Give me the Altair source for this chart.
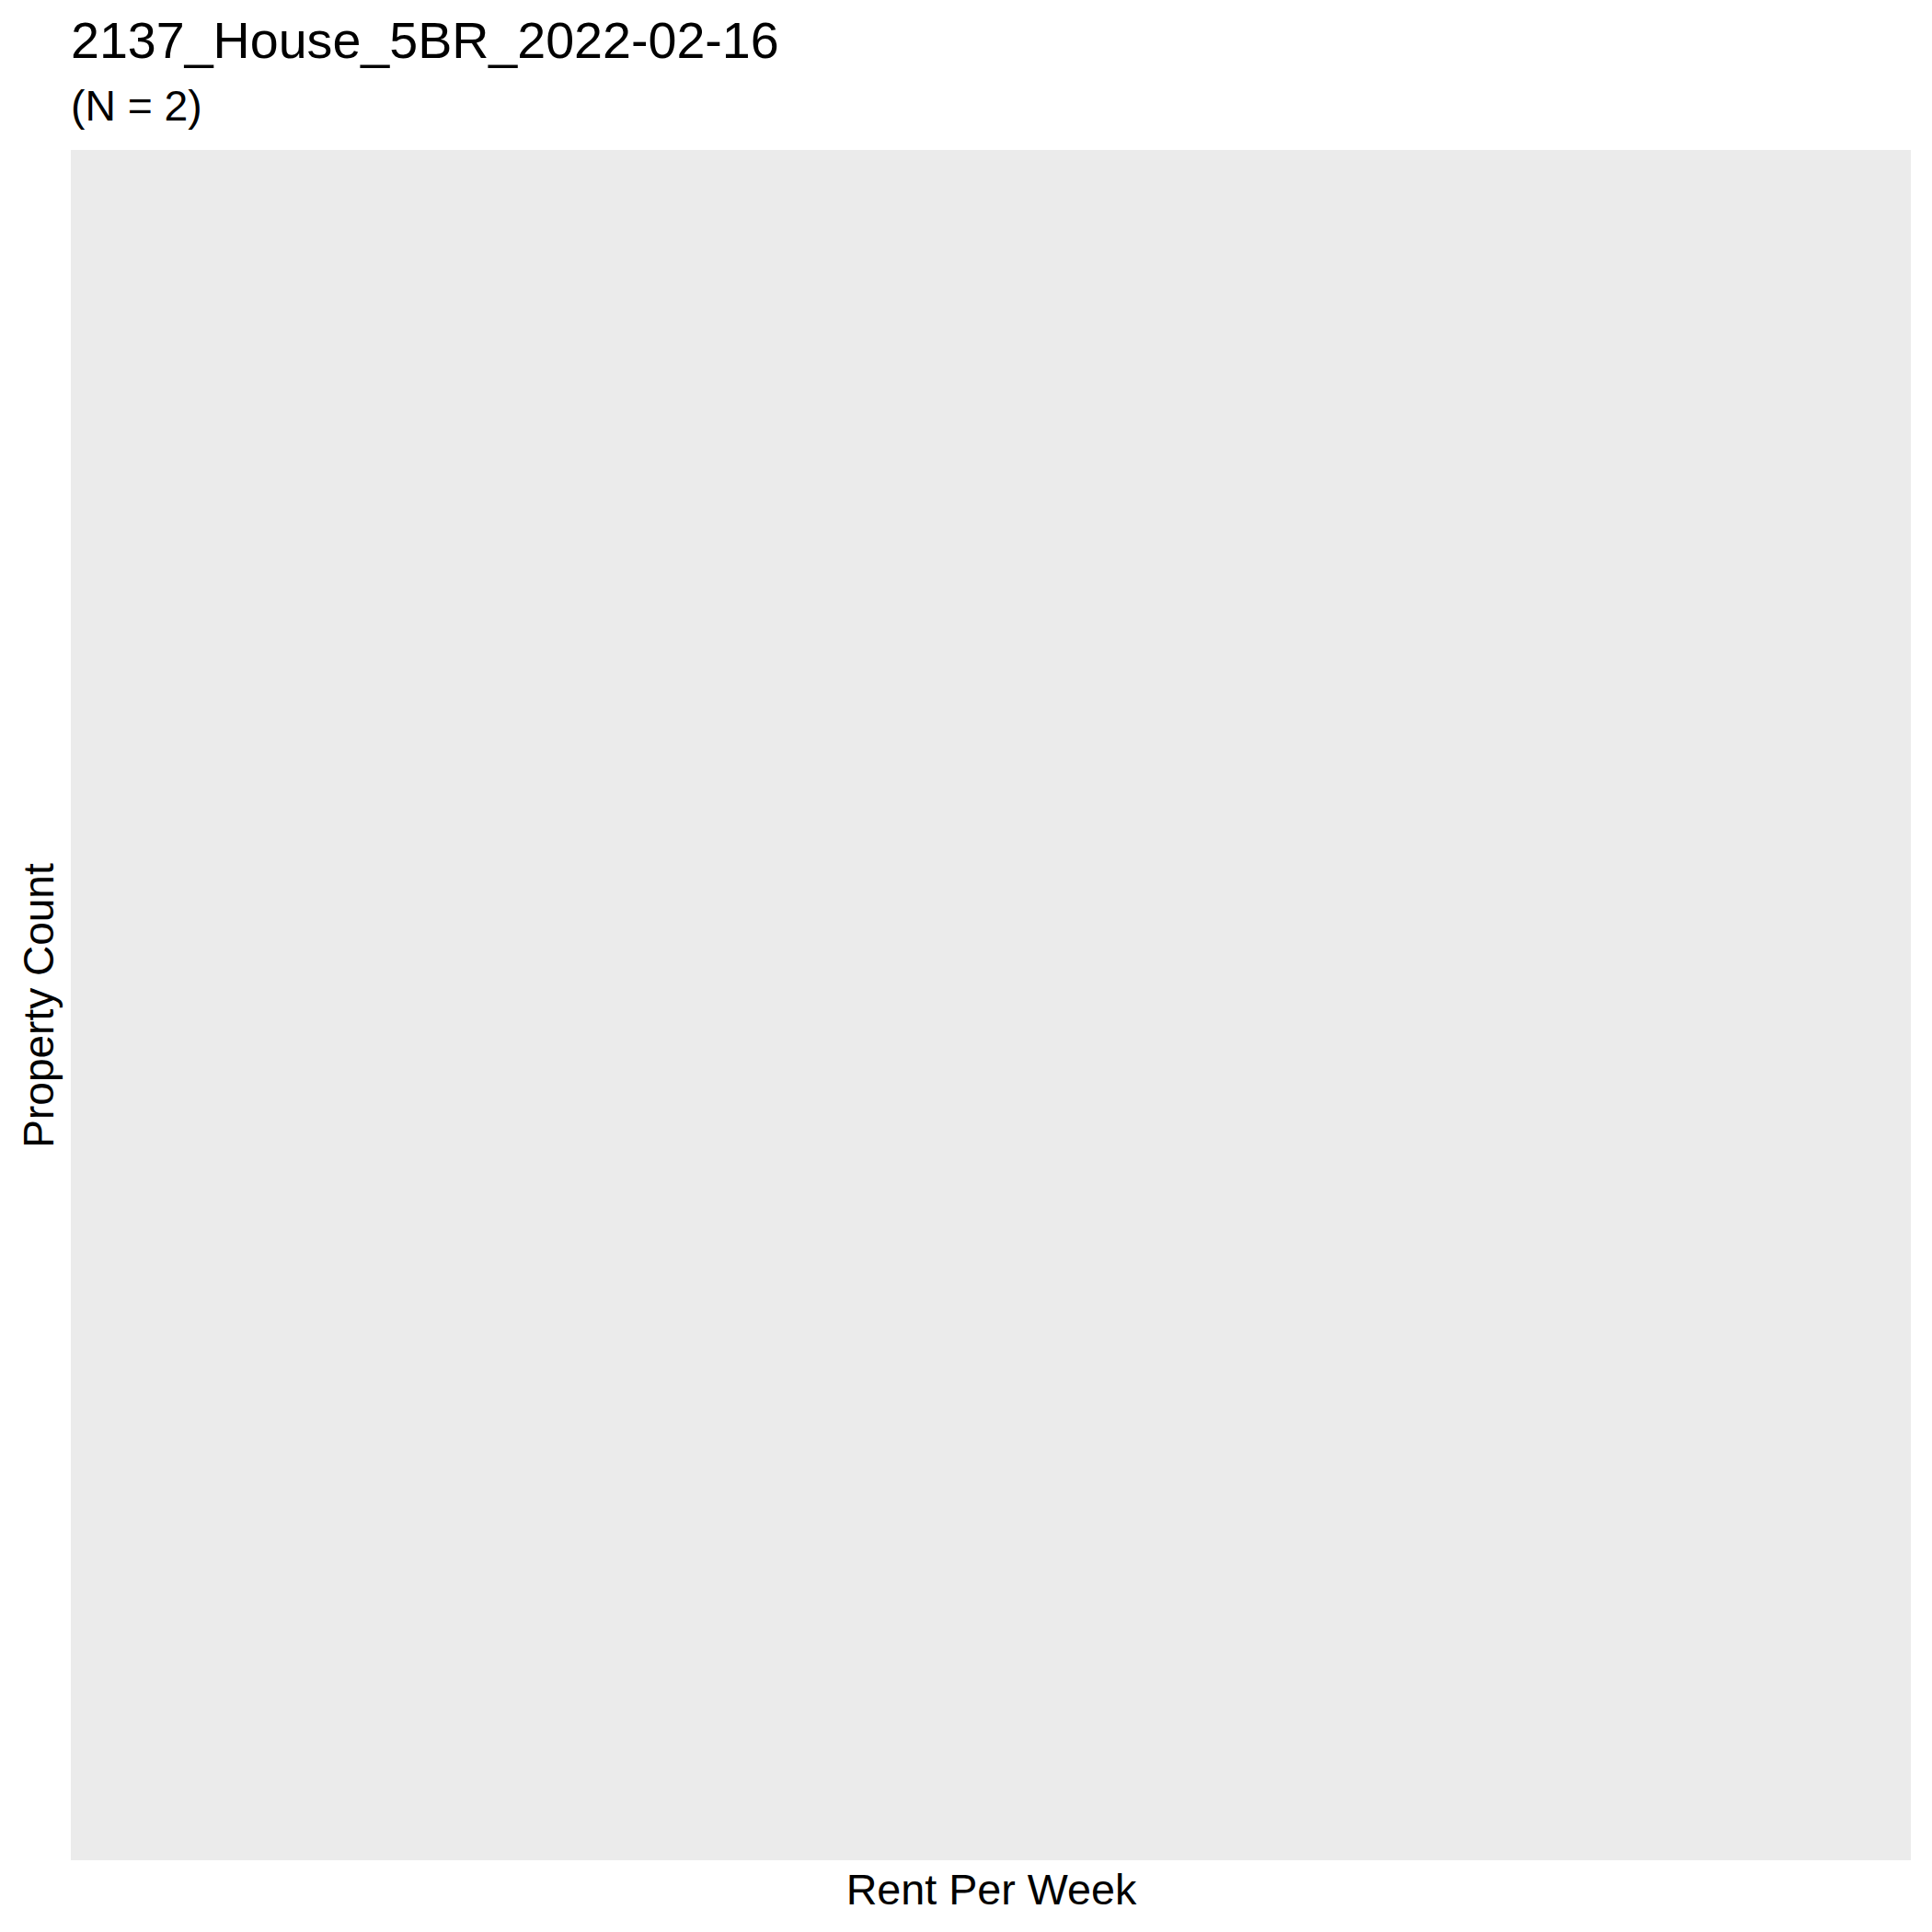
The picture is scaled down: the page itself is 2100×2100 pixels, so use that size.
import altair as alt
import pandas as pd

# Data: the panel shows no bars at all
rent_per_week = []
property_count = []
n_properties = 2
chart_title = "2137_House_5BR_2022-02-16"

df = pd.DataFrame({"rent": pd.Series(rent_per_week, dtype=float),
                   "count": pd.Series(property_count, dtype=float)})

FONT = "Liberation Sans"

chart = (
    alt.Chart(alt.Data(values=df.to_dict(orient="records")))
    .mark_bar(color="#595959")
    .encode(
        x=alt.X("rent:Q", title="Rent Per Week",
                axis=alt.Axis(labels=False, ticks=False, domain=False, grid=False,
                              titleFont=FONT, titleFontSize=46.7, titleFontWeight="normal",
                              titleColor="black", titlePadding=10)),
        y=alt.Y("count:Q", title="Property Count",
                axis=alt.Axis(labels=False, ticks=False, domain=False, grid=False,
                              titleFont=FONT, titleFontSize=46, titleFontWeight="normal",
                              titleColor="black", titlePadding=10)),
    )
    .properties(
        width=2000,
        height=1859,
        title=alt.TitleParams(
            text=chart_title,
            subtitle=f"(N = {n_properties})",
            anchor="start",
            frame="group",
            font=FONT,
            fontSize=55.6,
            fontWeight="normal",
            color="black",
            subtitleFont=FONT,
            subtitleFontSize=46.3,
            subtitleColor="black",
            subtitlePadding=19,
            offset=23,
        ),
        autosize=alt.AutoSizeParams(type="none"),
        padding={"left": 77, "top": 163, "right": 23, "bottom": 78},
        background="white",
    )
    .configure_view(fill="#EBEBEB", stroke=None)
)

chart.save("out.html", embed_options={"renderer": "svg", "actions": False})
